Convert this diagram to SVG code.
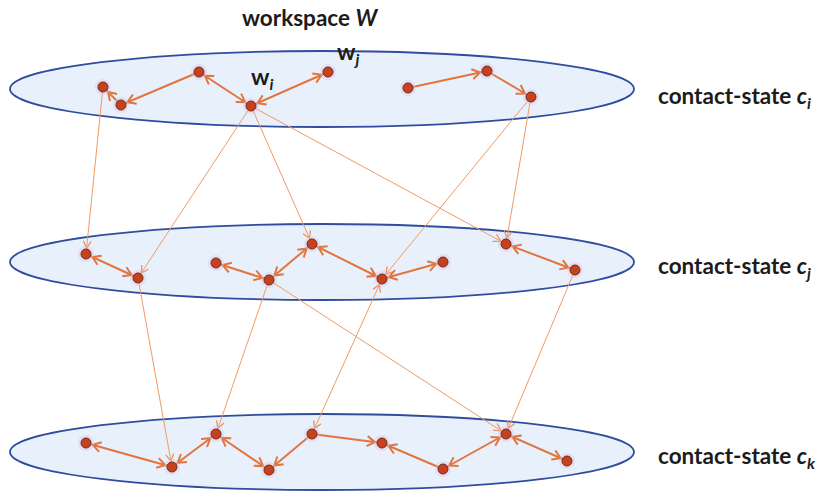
<svg xmlns="http://www.w3.org/2000/svg" width="825" height="493" viewBox="0 0 825 493">
  <defs>
    <style>
      .plane { fill: #e8f1fb; stroke: #2f4c9e; stroke-width: 1.8; }
      .node circle.dot { fill: #c4421d; stroke: #7c2a12; stroke-width: 1; }
      .node circle.halo { fill: #d9c4ec; opacity: 0.4; }
      .path { stroke: #e2743f; stroke-width: 2; fill: none; }
      .jump { stroke: #f19a62; stroke-width: 1; fill: none; }
      .label { font-family: Lato, "Open Sans", "Liberation Sans", sans-serif; font-weight: 700; fill: #1c1c1c; }
      .it { font-style: italic; }
    </style>
    <marker id="ah" markerUnits="userSpaceOnUse" viewBox="0 0 24 12" markerWidth="24" markerHeight="12" refX="16" refY="6" orient="auto-start-reverse">
      <path d="M1,1 L9,6 L1,11" fill="none" stroke="#e2743f" stroke-width="2" stroke-linejoin="miter"/>
    </marker>
    <marker id="ahs" markerUnits="userSpaceOnUse" viewBox="0 0 20 10" markerWidth="20" markerHeight="10" refX="14" refY="5" orient="auto-start-reverse">
      <path d="M1,1 L8,5 L1,9" fill="none" stroke="#f08a52" stroke-width="1.2"/>
    </marker>
    <linearGradient id="fadeA" gradientUnits="userSpaceOnUse" x1="251" y1="106" x2="506" y2="244">
      <stop offset="0" stop-color="#f19a62"/>
      <stop offset="0.5" stop-color="#f6d890"/>
      <stop offset="1" stop-color="#f19a62"/>
    </linearGradient>
    <linearGradient id="fadeB" gradientUnits="userSpaceOnUse" x1="269" y1="280" x2="506" y2="434">
      <stop offset="0" stop-color="#f19a62"/>
      <stop offset="0.5" stop-color="#f6d890"/>
      <stop offset="1" stop-color="#f19a62"/>
    </linearGradient>
  </defs>

  <rect width="825" height="493" fill="#ffffff"/>

  <!-- contact-state planes -->
  <g id="planes">
    <ellipse id="plane-ci" class="plane" cx="322" cy="89" rx="312" ry="38"/>
    <ellipse id="plane-cj" class="plane" cx="322" cy="262" rx="312" ry="38"/>
    <ellipse id="plane-ck" class="plane" cx="322" cy="452" rx="312" ry="38"/>
  </g>

  <!-- transitions -->
  <g id="connectors">
    <!-- between planes -->
    <line class="jump" x1="103" y1="87" x2="86" y2="254" marker-end="url(#ahs)"/>
    <line class="jump" x1="251" y1="106" x2="138" y2="278" marker-end="url(#ahs)"/>
    <line class="jump" x1="251" y1="106" x2="312" y2="244" marker-end="url(#ahs)"/>
    <line class="jump" x1="251" y1="106" x2="506" y2="244" stroke="url(#fadeA)" marker-end="url(#ahs)"/>
    <line class="jump" x1="531" y1="97" x2="382" y2="279" marker-end="url(#ahs)"/>
    <line class="jump" x1="531" y1="97" x2="506" y2="244" marker-end="url(#ahs)"/>
    <line class="jump" x1="138" y1="278" x2="172" y2="467" marker-end="url(#ahs)"/>
    <line class="jump" x1="269" y1="280" x2="216" y2="434" marker-end="url(#ahs)"/>
    <line class="jump" x1="269" y1="280" x2="506" y2="434" stroke="url(#fadeB)" marker-end="url(#ahs)"/>
    <line class="jump" x1="312" y1="434" x2="382" y2="279" marker-start="url(#ahs)" marker-end="url(#ahs)"/>
    <line class="jump" x1="575" y1="270" x2="506" y2="434" marker-end="url(#ahs)"/>

    <!-- plane c_i -->
    <line class="path" x1="121" y1="105" x2="103" y2="87" marker-end="url(#ah)"/>
    <line class="path" x1="199" y1="72" x2="121" y2="105" marker-end="url(#ah)"/>
    <line class="path" x1="199" y1="72" x2="251" y2="106" marker-start="url(#ah)" marker-end="url(#ah)"/>
    <line class="path" x1="251" y1="106" x2="328" y2="72" marker-start="url(#ah)" marker-end="url(#ah)"/>
    <line class="path" x1="408" y1="88" x2="487" y2="71" marker-end="url(#ah)"/>
    <line class="path" x1="487" y1="71" x2="531" y2="97" marker-end="url(#ah)"/>

    <!-- plane c_j -->
    <line class="path" x1="86" y1="254" x2="138" y2="278" marker-start="url(#ah)" marker-end="url(#ah)"/>
    <line class="path" x1="216" y1="263" x2="269" y2="280" marker-start="url(#ah)" marker-end="url(#ah)"/>
    <line class="path" x1="269" y1="280" x2="312" y2="244" marker-start="url(#ah)" marker-end="url(#ah)"/>
    <line class="path" x1="312" y1="244" x2="382" y2="279" marker-start="url(#ah)" marker-end="url(#ah)"/>
    <line class="path" x1="382" y1="279" x2="443" y2="262" marker-start="url(#ah)" marker-end="url(#ah)"/>
    <line class="path" x1="506" y1="244" x2="575" y2="270" marker-start="url(#ah)" marker-end="url(#ah)"/>

    <!-- plane c_k -->
    <line class="path" x1="86" y1="443" x2="172" y2="467" marker-start="url(#ah)" marker-end="url(#ah)"/>
    <line class="path" x1="172" y1="467" x2="216" y2="434" marker-start="url(#ah)" marker-end="url(#ah)"/>
    <line class="path" x1="216" y1="434" x2="269" y2="470" marker-start="url(#ah)" marker-end="url(#ah)"/>
    <line class="path" x1="312" y1="434" x2="269" y2="470" marker-end="url(#ah)"/>
    <line class="path" x1="312" y1="434" x2="382" y2="443" marker-end="url(#ah)"/>
    <line class="path" x1="443" y1="469" x2="382" y2="443" marker-end="url(#ah)"/>
    <line class="path" x1="506" y1="434" x2="443" y2="469" marker-start="url(#ah)" marker-end="url(#ah)"/>
    <line class="path" x1="506" y1="434" x2="567" y2="461" marker-start="url(#ah)" marker-end="url(#ah)"/>
  </g>

  <!-- workspace points -->
  <g id="ci-a" class="node"><circle class="halo" cx="103" cy="87" r="8"/><circle class="dot" cx="103" cy="87" r="5"/></g>
  <g id="ci-b" class="node"><circle class="halo" cx="121" cy="105" r="8"/><circle class="dot" cx="121" cy="105" r="5"/></g>
  <g id="ci-c" class="node"><circle class="halo" cx="199" cy="72" r="8"/><circle class="dot" cx="199" cy="72" r="5"/></g>
  <g id="ci-wi" class="node"><circle class="halo" cx="251" cy="106" r="8"/><circle class="dot" cx="251" cy="106" r="5"/></g>
  <g id="ci-wj" class="node"><circle class="halo" cx="328" cy="72" r="8"/><circle class="dot" cx="328" cy="72" r="5"/></g>
  <g id="ci-e" class="node"><circle class="halo" cx="408" cy="88" r="8"/><circle class="dot" cx="408" cy="88" r="5"/></g>
  <g id="ci-f" class="node"><circle class="halo" cx="487" cy="71" r="8"/><circle class="dot" cx="487" cy="71" r="5"/></g>
  <g id="ci-g" class="node"><circle class="halo" cx="531" cy="97" r="8"/><circle class="dot" cx="531" cy="97" r="5"/></g>

  <g id="cj-h" class="node"><circle class="halo" cx="86" cy="254" r="8"/><circle class="dot" cx="86" cy="254" r="5"/></g>
  <g id="cj-i" class="node"><circle class="halo" cx="138" cy="278" r="8"/><circle class="dot" cx="138" cy="278" r="5"/></g>
  <g id="cj-j" class="node"><circle class="halo" cx="216" cy="263" r="8"/><circle class="dot" cx="216" cy="263" r="5"/></g>
  <g id="cj-k" class="node"><circle class="halo" cx="269" cy="280" r="8"/><circle class="dot" cx="269" cy="280" r="5"/></g>
  <g id="cj-l" class="node"><circle class="halo" cx="312" cy="244" r="8"/><circle class="dot" cx="312" cy="244" r="5"/></g>
  <g id="cj-m" class="node"><circle class="halo" cx="382" cy="279" r="8"/><circle class="dot" cx="382" cy="279" r="5"/></g>
  <g id="cj-n" class="node"><circle class="halo" cx="443" cy="262" r="8"/><circle class="dot" cx="443" cy="262" r="5"/></g>
  <g id="cj-o" class="node"><circle class="halo" cx="506" cy="244" r="8"/><circle class="dot" cx="506" cy="244" r="5"/></g>
  <g id="cj-p" class="node"><circle class="halo" cx="575" cy="270" r="8"/><circle class="dot" cx="575" cy="270" r="5"/></g>

  <g id="ck-q" class="node"><circle class="halo" cx="86" cy="443" r="8"/><circle class="dot" cx="86" cy="443" r="5"/></g>
  <g id="ck-r" class="node"><circle class="halo" cx="172" cy="467" r="8"/><circle class="dot" cx="172" cy="467" r="5"/></g>
  <g id="ck-s" class="node"><circle class="halo" cx="216" cy="434" r="8"/><circle class="dot" cx="216" cy="434" r="5"/></g>
  <g id="ck-t" class="node"><circle class="halo" cx="269" cy="470" r="8"/><circle class="dot" cx="269" cy="470" r="5"/></g>
  <g id="ck-u" class="node"><circle class="halo" cx="312" cy="434" r="8"/><circle class="dot" cx="312" cy="434" r="5"/></g>
  <g id="ck-v" class="node"><circle class="halo" cx="382" cy="443" r="8"/><circle class="dot" cx="382" cy="443" r="5"/></g>
  <g id="ck-x" class="node"><circle class="halo" cx="443" cy="469" r="8"/><circle class="dot" cx="443" cy="469" r="5"/></g>
  <g id="ck-y" class="node"><circle class="halo" cx="506" cy="434" r="8"/><circle class="dot" cx="506" cy="434" r="5"/></g>
  <g id="ck-z" class="node"><circle class="halo" cx="567" cy="461" r="8"/><circle class="dot" cx="567" cy="461" r="5"/></g>

  <!-- labels -->
  <g id="labels" class="label">
    <text x="242" y="26" font-size="22.5">workspace <tspan class="it">W</tspan></text>
    <text x="251" y="85" font-size="23">w<tspan class="it" font-size="16" dy="5">i</tspan></text>
    <text x="337" y="60" font-size="23">w<tspan class="it" font-size="16" dy="5">j</tspan></text>
    <text x="658" y="104" font-size="22.5">contact-state <tspan class="it">c</tspan><tspan class="it" font-size="16" dy="5">i</tspan></text>
    <text x="658" y="274" font-size="22.5">contact-state <tspan class="it">c</tspan><tspan class="it" font-size="16" dy="5">j</tspan></text>
    <text x="658" y="464" font-size="22.5">contact-state <tspan class="it">c</tspan><tspan class="it" font-size="16" dy="5">k</tspan></text>
  </g>
</svg>
